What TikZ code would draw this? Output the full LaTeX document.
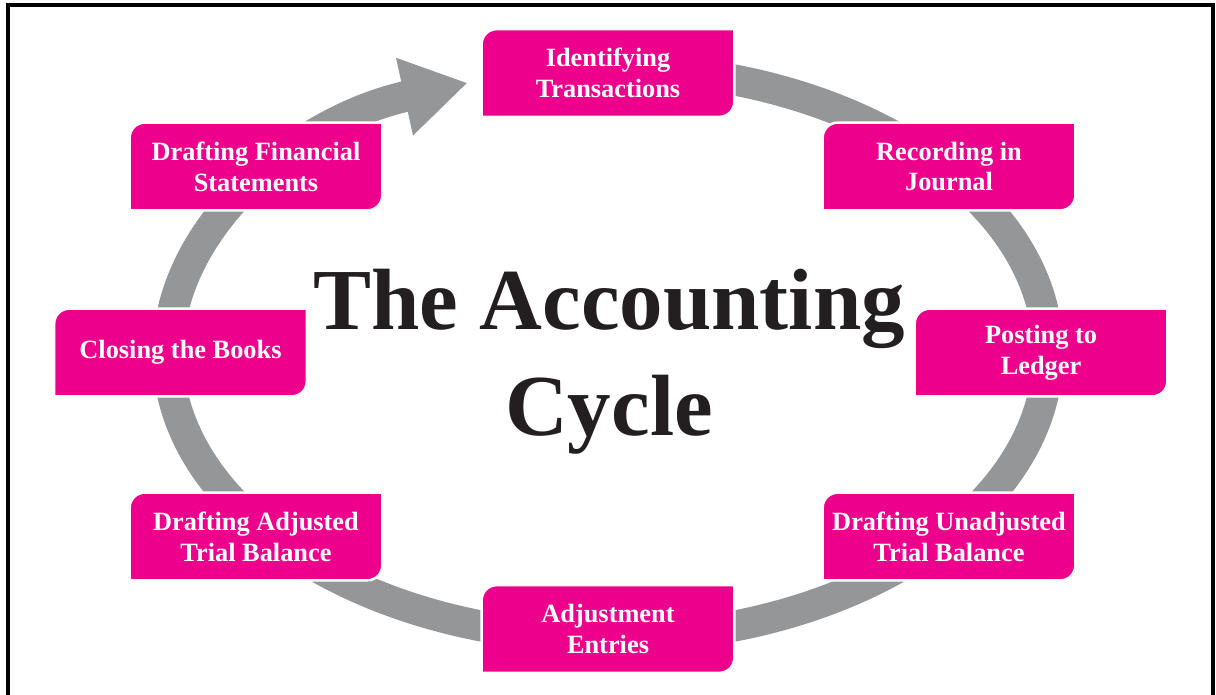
\documentclass[tikz,border=0pt]{standalone}
\usepackage{fontspec}
\setmainfont{Liberation Serif}
\usetikzlibrary{arrows.meta}
\definecolor{cyclepink}{HTML}{EC008C}
\definecolor{cyclegrey}{HTML}{959698}
\definecolor{titleink}{HTML}{231F20}
\pgfdeclarelayer{back}
\pgfsetlayers{back,main}
\tikzset{>={Triangle[length=36.8pt,width=42.5pt]},
	stepbox/.style={minimum width=5.04cm,minimum height=1.74cm,inner sep=0pt,text=white,align=center,font=\fontsize{15}{17.6}\selectfont\bfseries},
	stepfill/.style={fill=cyclepink,draw=white,line width=1.4pt},
	ring/.style={draw=cyclegrey,line width=17.6pt},
	frame/.style={draw=black,line width=2pt},
	title/.style={text=titleink,align=center,font=\fontsize{49.5}{60}\selectfont\bfseries}}
\begin{document}
\begin{tikzpicture}[x=0.02cm,y=0.02cm]
	\useasboundingbox (0,0) rectangle (1216,694);
	\coordinate (hub) at (608,341);
	\node (ident) at (608,621) [stepbox] {Identifying\\Transactions};
	\node (record) at (949,527.5) [stepbox] {Recording in\\Journal};
	\node (post) at (1041,341.5) [stepbox] {Posting to\\Ledger};
	\node (unadj) at (949,157.5) [stepbox] {Drafting Unadjusted\\Trial Balance};
	\node (adjent) at (608,65) [stepbox] {Adjustment\\Entries};
	\node (adjtb) at (256,157.5) [stepbox] {Drafting Adjusted\\Trial Balance};
	\node (close) at (180.5,341.5) [stepbox] {Closing the Books};
	\node (fin) at (256,527.5) [stepbox] {Drafting Financial\\Statements};
	\node (head) at (609,259) [title,anchor=base] {The Accounting\\Cycle};
	\begin{pgfonlayer}{back}
	\draw [frame] (8,-20) rectangle (1213,689);
	\draw [ring,->] (hub) ++(85:440 and 285) arc[start angle=85,end angle=-251.4,x radius=440,y radius=285];
	\foreach \b in {ident,record,post,unadj,adjent,adjtb,close,fin}
		\fill [stepfill] (\b.south west) -- ([yshift=-0.3cm]\b.north west) arc[start angle=180,end angle=90,radius=0.3cm] -- (\b.north east) -- ([yshift=0.3cm]\b.south east) arc[start angle=0,end angle=-90,radius=0.3cm] -- cycle;
	\end{pgfonlayer}
\end{tikzpicture}
\end{document}
